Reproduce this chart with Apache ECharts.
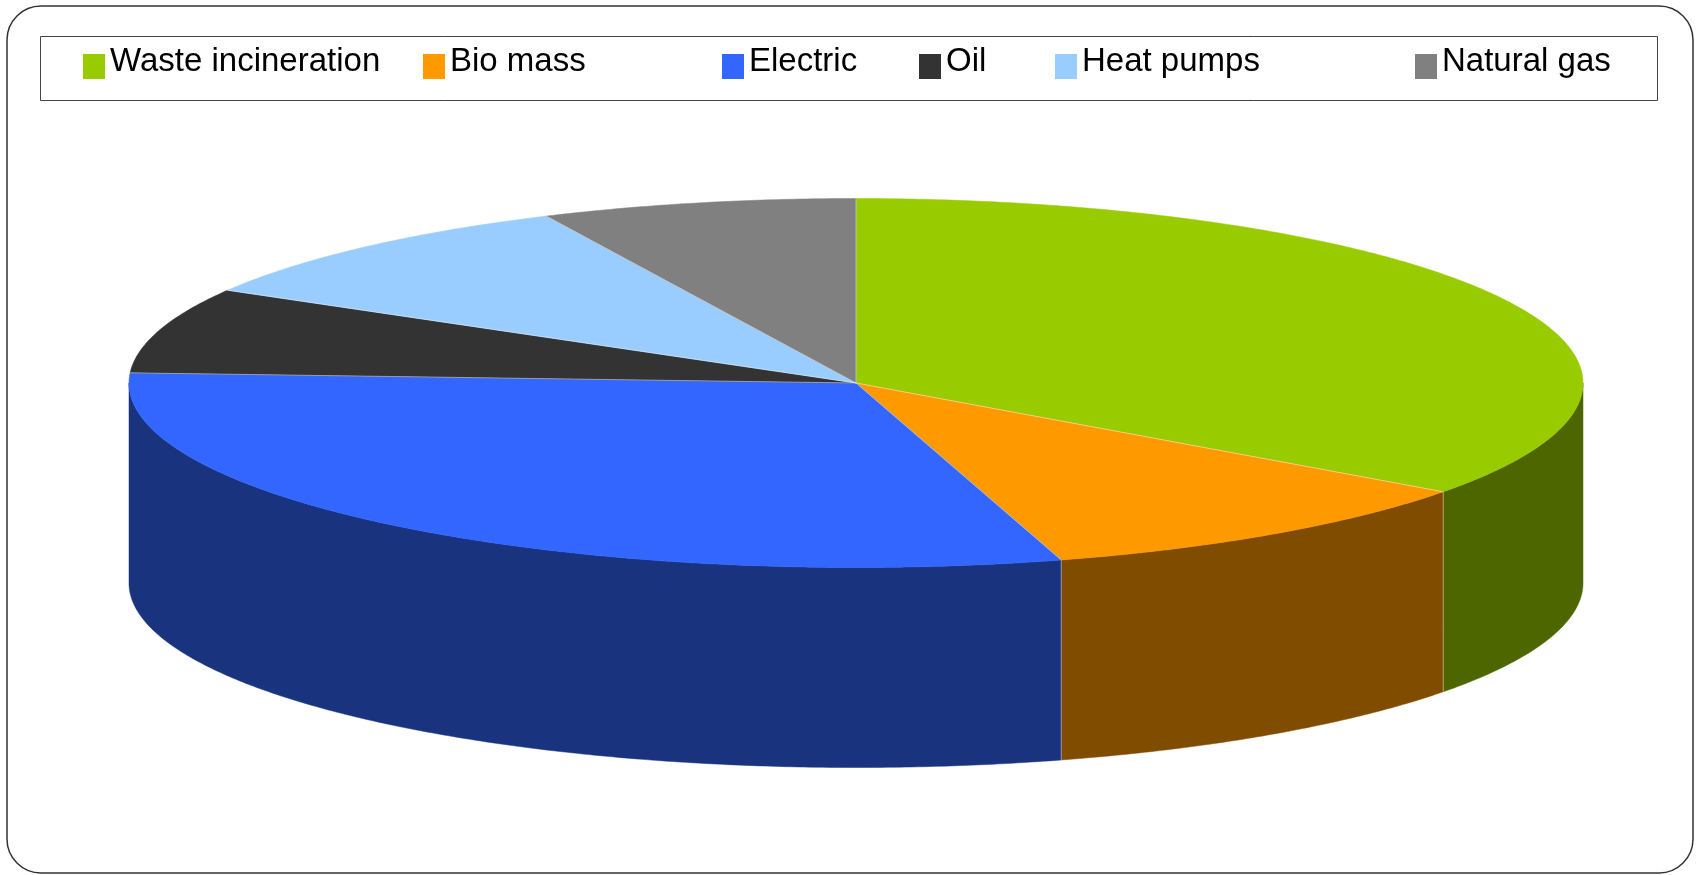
<!DOCTYPE html>
<html>
<head>
<meta charset="utf-8">
<script src="https://cdn.jsdelivr.net/npm/echarts@6/dist/echarts.min.js"></script>
<style>
  html, body { margin: 0; padding: 0; background: #fff; }
  #chart { width: 1700px; height: 875px; }
</style>
</head>
<body>
<div id="chart"></div>
<script>
const categories = ['Waste incineration', 'Bio mass', 'Electric', 'Oil', 'Heat pumps', 'Natural gas'];
const shares = [35.0, 10.4, 30.4, 7.5, 9.6, 7.0];
const topColors = ['#99CC00', '#FF9900', '#3366FF', '#333333', '#99CCFF', '#808080'];
const sideColors = ['#4D6600', '#804C00', '#19337F', '#1A1A1A', '#4D6680', '#404040'];

const chart = echarts.init(document.getElementById('chart'));

// pie geometry in pixels: centre, radii of the top ellipse, height of the wall
const cx = 856, cy = 383, rx = 727, ry = 184.5, depth = 200;

const total = shares.reduce((a, b) => a + b, 0);
const startAngles = [];
let acc = 0;
shares.forEach(v => { startAngles.push(acc / total * 360); acc += v; });

// angle measured clockwise from 12 o'clock
function pt(deg, drop) {
  const r = deg * Math.PI / 180;
  return [cx + rx * Math.sin(r), cy - ry * Math.cos(r) + (drop || 0)];
}

function arc(a0, a1, drop) {
  const pts = [];
  const n = Math.max(2, Math.ceil((a1 - a0) / 0.5));
  for (let i = 0; i <= n; i++) pts.push(pt(a0 + (a1 - a0) * i / n, drop));
  return pts;
}

function renderSlice(params, api) {
  const i = params.seriesIndex;
  const a0 = startAngles[i];
  const a1 = a0 + api.value(0) / total * 360;
  const children = [];

  // front wall, only the part facing the viewer
  const s0 = Math.max(a0, 90), s1 = Math.min(a1, 270);
  if (s1 > s0) {
    children.push({
      type: 'polygon',
      shape: { points: arc(s0, s1, 0).concat(arc(s0, s1, depth).reverse()) },
      style: { fill: sideColors[i], stroke: sideColors[i], lineWidth: 0.5 }
    });
  }
  // top face
  children.push({
    type: 'polygon',
    shape: { points: [[cx, cy]].concat(arc(a0, a1, 0)) },
    style: { fill: topColors[i], stroke: topColors[i], lineWidth: 0.5 }
  });
  // light edges between slices
  children.push({
    type: 'polyline',
    z2: 10,
    shape: { points: [[cx, cy], pt(a0, 0)] },
    style: { stroke: 'rgba(255,255,255,0.45)', lineWidth: 1, fill: null }
  });
  if (a0 > 90 && a0 < 270) {
    children.push({
      type: 'polyline',
      z2: 10,
      shape: { points: [pt(a0, 0), pt(a0, depth)] },
      style: { stroke: 'rgba(255,255,255,0.45)', lineWidth: 1, fill: null }
    });
  }
  return { type: 'group', children: children };
}

// width reserved for each legend label so the swatches land where Excel put them
const legendSlots = [313, 272, 170, 109, 333, 200];
const legendRich = {};
legendSlots.forEach((w, i) => {
  legendRich['s' + i] = { width: w, fontSize: 33, lineHeight: 33, padding: [0, 0, 10, 0] };
});

const options = {
  animation: false,
  backgroundColor: '#fff',
  legend: {
    left: 78,
    top: 40,
    icon: 'rect',
    itemWidth: 22,
    itemHeight: 25,
    itemGap: 0,
    selectedMode: false,
    formatter: name => '{s' + categories.indexOf(name) + '|' + name + '}',
    textStyle: {
      fontSize: 33,
      color: '#000',
      fontFamily: "'Liberation Sans', Arial, sans-serif",
      rich: legendRich
    },
    data: categories
  },
  graphic: [
    {
      type: 'rect',
      shape: { x: 7, y: 6, width: 1686, height: 867, r: 34 },
      style: { fill: 'none', stroke: '#333', lineWidth: 1.5 }
    },
    {
      type: 'rect',
      shape: { x: 40.5, y: 36.5, width: 1617, height: 64 },
      style: { fill: 'none', stroke: '#444', lineWidth: 1 }
    }
  ],
  series: categories.map((name, i) => ({
    name: name,
    type: 'custom',
    coordinateSystem: 'none',
    itemStyle: { color: topColors[i] },
    renderItem: renderSlice,
    data: [shares[i]]
  }))
};

chart.setOption(options);
</script>
</body>
</html>
